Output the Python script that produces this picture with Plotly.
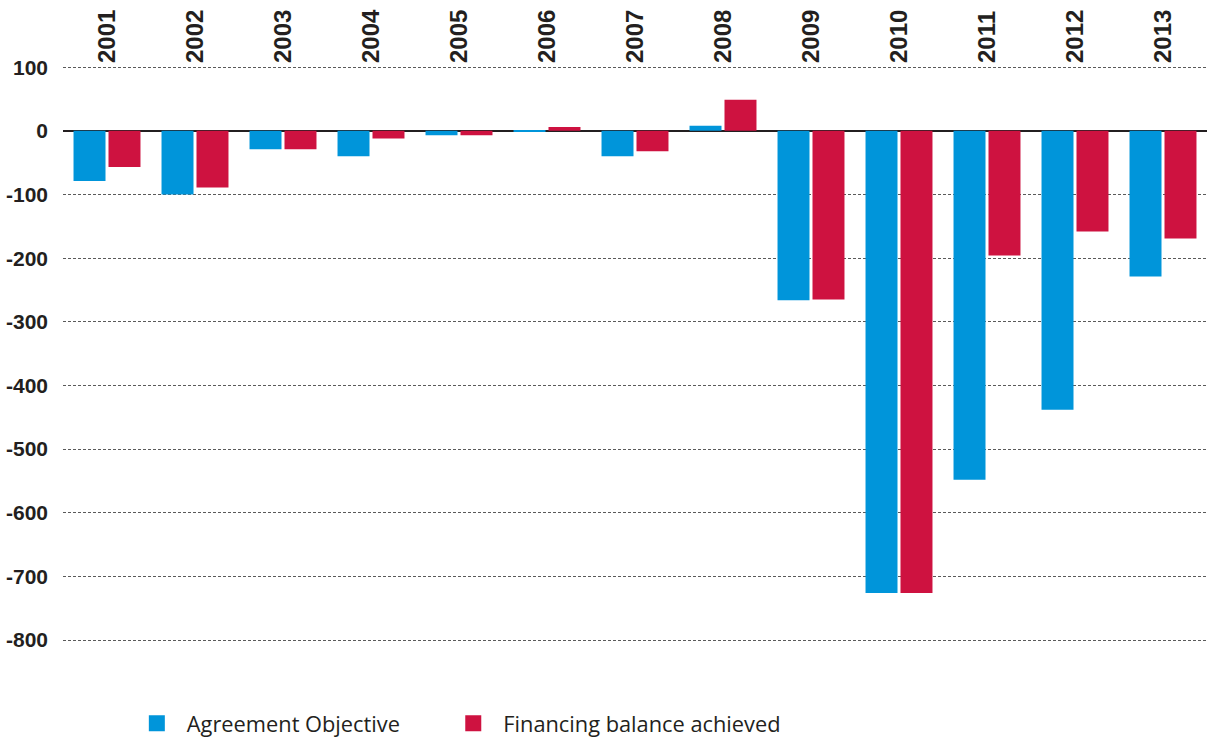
import plotly.graph_objects as go

years = ["2001", "2002", "2003", "2004", "2005", "2006", "2007",
         "2008", "2009", "2010", "2011", "2012", "2013"]
agreement_objective = [-79, -100, -29, -40, -7, -1, -40, 8, -266, -726, -548, -438, -229]
financing_achieved = [-57, -89, -29, -12, -7, 6, -32, 49, -265, -726, -196, -158, -169]
y_ticks = [100, 0, -100, -200, -300, -400, -500, -600, -700, -800]

BLUE = "#0095da"
RED = "#ce1240"
TXT = "#231f20"

fig = go.Figure()
fig.add_trace(go.Bar(x=years, y=agreement_objective, marker_color=BLUE,
                     marker_line_width=0, showlegend=False, name="Agreement Objective"))
fig.add_trace(go.Bar(x=years, y=financing_achieved, marker_color=RED,
                     marker_line_width=0, showlegend=False, name="Financing balance achieved"))
# legend entries
fig.add_trace(go.Scatter(x=[None], y=[None], mode="markers", name="Agreement Objective",
                         marker=dict(symbol="square", size=16, color=BLUE), legend="legend"))
fig.add_trace(go.Scatter(x=[None], y=[None], mode="markers", name="Financing balance achieved",
                         marker=dict(symbol="square", size=16, color=RED), legend="legend2"))

legend_common = dict(orientation="h", y=-0.052, xanchor="left", yanchor="middle",
                     font=dict(size=21.8, family="Open Sans", color=TXT),
                     itemwidth=50, bgcolor="rgba(0,0,0,0)")

fig.update_layout(
    width=1212, height=743,
    margin=dict(l=62.7, r=5.3, t=64, b=51.5, autoexpand=False),
    paper_bgcolor="white", plot_bgcolor="white",
    barmode="group", bargap=0.205, bargroupgap=0.086,
    hovermode=False,
    font=dict(family="Open Sans", color=TXT),
    legend=dict(x=0.0558, **legend_common),
    legend2=dict(x=0.3324, **legend_common),
    xaxis=dict(side="top", type="category", tickangle=-90, showgrid=False,
               showline=False, ticks="", automargin=False,
               tickfont=dict(size=24, family="Liberation Sans", color=TXT, weight="bold")),
    yaxis=dict(range=[-880, 105], tickvals=y_ticks, ticktext=[str(v) for v in y_ticks],
               showgrid=True, gridcolor="#5a5a5a", gridwidth=1, griddash="3px,2px",
               zeroline=True, zerolinecolor=TXT, zerolinewidth=1.5,
               showline=False, ticks="", ticklabelstandoff=14, automargin=False,
               tickfont=dict(size=21, family="Liberation Sans", color=TXT, weight="bold")),
)

fig.write_html("out.html", config={"displayModeBar": False},
               post_script="document.body.style.margin='0';")
